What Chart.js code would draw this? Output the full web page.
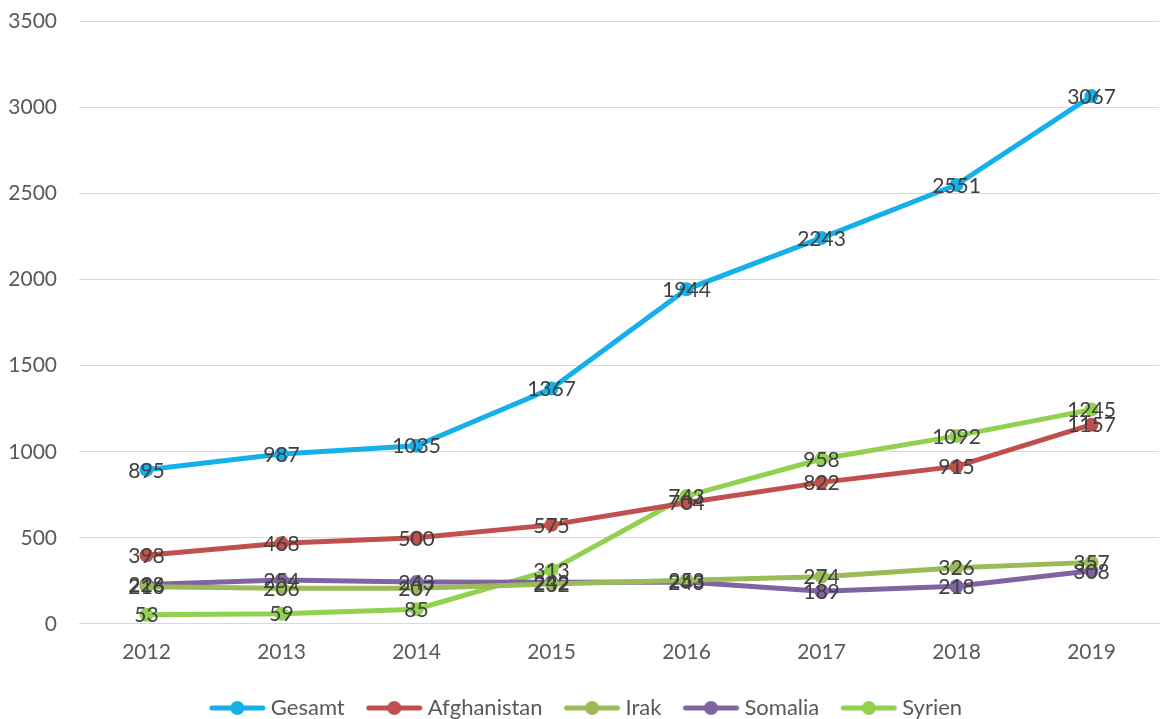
<!DOCTYPE html>
<html>
<head>
<meta charset="utf-8">
<script src="https://cdn.jsdelivr.net/npm/chart.js@4"></script>
<style>
  html, body { margin: 0; padding: 0; background: #fff; }
  #wrap { width: 1168px; height: 719px; overflow: hidden; position: relative; }
  #chart { position: absolute; left: 0; top: -13px; }
</style>
</head>
<body>
<div id="wrap"><canvas id="chart" width="1166" height="742"></canvas></div>
<script>
const years = ['2012', '2013', '2014', '2015', '2016', '2017', '2018', '2019'];
const gesamt = [895, 987, 1035, 1367, 1944, 2243, 2551, 3067];
const afghanistan = [398, 468, 500, 575, 704, 822, 915, 1157];
const irak = [216, 206, 207, 232, 253, 274, 326, 357];
const somalia = [228, 254, 243, 242, 243, 189, 218, 308];
const syrien = [53, 59, 85, 313, 743, 958, 1092, 1245];

const FONT = 'Lato, "Open Sans", sans-serif';
const FS = 21;

// legend marker: short line with a dot in the middle.
// image is wider than the legend box, line sits on its right so text is close
function legendIcon(color) {
    const c = document.createElement('canvas');
    c.width = 74; c.height = 16;
    const g = c.getContext('2d');
    g.strokeStyle = color;
    g.lineWidth = 5;
    g.lineCap = 'round';
    g.beginPath(); g.moveTo(17, 8); g.lineTo(68, 8); g.stroke();
    g.fillStyle = color;
    g.beginPath(); g.arc(42.5, 8, 7, 0, Math.PI * 2); g.fill();
    return c;
}

// simple value labels centred on each point
const valueLabels = {
    id: 'valueLabels',
    afterDatasetsDraw(chart) {
        const ctx = chart.ctx;
        ctx.save();
        ctx.font = FS + 'px ' + FONT;
        ctx.fillStyle = '#404040';
        ctx.textAlign = 'center';
        ctx.textBaseline = 'middle';
        chart.data.datasets.forEach((ds, i) => {
            chart.getDatasetMeta(i).data.forEach((pt, j) => {
                ctx.fillText(ds.data[j], pt.x, pt.y + 1);
            });
        });
        ctx.restore();
    }
};

function series(label, data, color) {
    return {
        label, data,
        borderColor: color,
        backgroundColor: color,
        borderWidth: 5,
        pointRadius: 7,
        pointHoverRadius: 7,
        pointBorderWidth: 0,
        tension: 0,
        pointStyle: 'circle'
    };
}

const datasets = [
    series('Gesamt', gesamt, '#15b0ea'),
    series('Afghanistan', afghanistan, '#c0504d'),
    series('Irak', irak, '#9bbb59'),
    series('Somalia', somalia, '#8064a2'),
    series('Syrien', syrien, '#92d050')
];
datasets.forEach(d => { d.legendIcon = legendIcon(d.borderColor); });

new Chart(document.getElementById('chart'), {
    type: 'line',
    data: { labels: years, datasets },
    plugins: [valueLabels],
    options: {
        responsive: false,
        animation: false,
        layout: { padding: { top: 0, right: 0, left: 0, bottom: 0 } },
        plugins: {
            tooltip: { enabled: false },
            legend: {
                position: 'bottom',
                labels: {
                    usePointStyle: true,
                    pointStyleWidth: 56,
                    padding: 16,
                    color: '#595959',
                    font: { family: FONT, size: 22 },
                    generateLabels(chart) {
                        return chart.data.datasets.map((d, i) => ({
                            text: d.label,
                            pointStyle: d.legendIcon,
                            fillStyle: d.borderColor,
                            strokeStyle: d.borderColor,
                            lineWidth: 0,
                            hidden: false,
                            datasetIndex: i,
                            fontColor: '#595959'
                        }));
                    }
                }
            }
        },
        scales: {
            x: {
                offset: true,
                grid: { display: false, drawTicks: false },
                border: { color: '#d9d9d9', width: 1 },
                ticks: { color: '#595959', padding: 16, font: { family: FONT, size: FS } }
            },
            y: {
                min: 0, max: 3500,
                afterFit: scale => { scale.width = 79; },
                ticks: {
                    stepSize: 500, color: '#595959', padding: 22,
                    font: { family: FONT, size: FS },
                    callback: v => String(v)
                },
                grid: { color: '#d9d9d9', lineWidth: 1, drawTicks: false },
                border: { display: false }
            }
        }
    }
});
</script>
</body>
</html>
